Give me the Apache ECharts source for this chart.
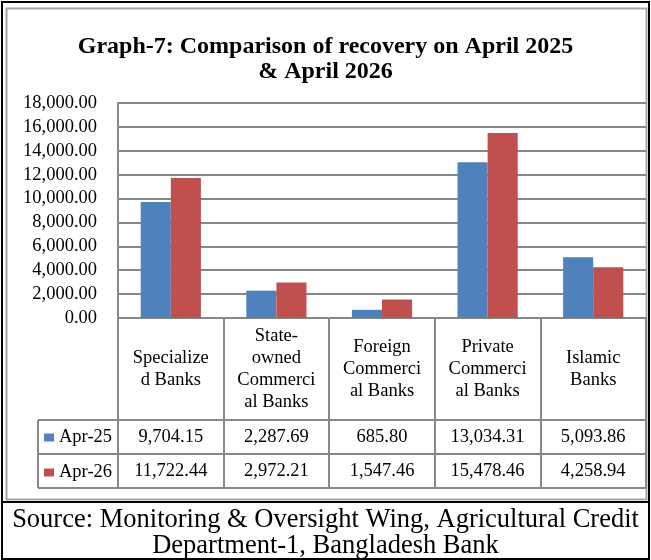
<!DOCTYPE html>
<html>
<head>
<meta charset="utf-8">
<script src="https://cdn.jsdelivr.net/npm/echarts@6/dist/echarts.min.js"></script>
<style>
    html, body { margin: 0; padding: 0; background: #fff; }
    #chart { width: 651px; height: 560px; }
</style>
</head>
<body>
<div id="chart"></div>
<script>
// data
var categories = ['Specialize\nd Banks', 'State-\nowned\nCommerci\nal Banks', 'Foreign\nCommerci\nal Banks', 'Private\nCommerci\nal Banks', 'Islamic\nBanks'];
var seriesNames = ['Apr-25', 'Apr-26'];
var apr25 = [9704.15, 2287.69, 685.80, 13034.31, 5093.86];
var apr26 = [11722.44, 2972.21, 1547.46, 15478.46, 4258.94];
var yMin = 0, yMax = 18000, yStep = 2000;

var titleText = 'Graph-7: Comparison of recovery on April 2025\n& April 2026';
var sourceText = 'Source: Monitoring & Oversight Wing, Agricultural Credit\nDepartment-1, Bangladesh Bank';

var serif = '"Liberation Serif", "Times New Roman", serif';
var lineGray = '#878787';
var fs = 18.5;

function fmt(v) {
    return v.toLocaleString('en-US', { minimumFractionDigits: 2, maximumFractionDigits: 2 });
}

// layout of plot + data table
var plotLeft = 118, plotRight = 646, plotTop = 103, plotBottom = 318;
var rowCat = 102, rowH = 34;   // category row height, value row height
var legendLeft = 38;

var chart = echarts.init(document.getElementById('chart'));

var tableTop = plotBottom + rowCat;
var option = {
    animation: false,
    color: ['#4F81BD', '#C0504D'],
    title: {
        text: titleText,
        left: 'center',
        top: 34,
        padding: 0,
        textStyle: { fontFamily: serif, fontWeight: 'bold', fontSize: 24, lineHeight: 25, color: '#000' }
    },
    grid: {
        left: plotLeft, right: 651 - plotRight, top: plotTop, bottom: 560 - plotBottom,
        containLabel: false
    },
    legend: {
        data: seriesNames,
        orient: 'vertical',
        left: legendLeft + 6,
        top: tableTop + 8,
        padding: 0,
        itemWidth: 10,
        itemHeight: 8,
        itemGap: 16,
        icon: 'rect',
        textStyle: { fontFamily: serif, fontSize: 18.5, lineHeight: 18, color: '#000' }
    },
    xAxis: [
        {
            type: 'category',
            data: categories,
            axisLine: { lineStyle: { color: lineGray, width: 2 } },
            axisTick: { show: true, length: rowCat + 2 * rowH, lineStyle: { color: lineGray, width: 2 } },
            axisLabel: {
                interval: 0, margin: rowCat / 2, verticalAlign: 'middle',
                fontFamily: serif, fontSize: fs, lineHeight: 22, color: '#000'
            }
        },
        {
            type: 'category',
            data: apr25.map(fmt),
            position: 'bottom',
            offset: rowCat + rowH / 2,
            axisLine: { show: false },
            axisTick: { show: false },
            axisLabel: { interval: 0, margin: 0, verticalAlign: 'middle', fontFamily: serif, fontSize: fs, color: '#000' }
        },
        {
            type: 'category',
            data: apr26.map(fmt),
            position: 'bottom',
            offset: rowCat + rowH * 1.5,
            axisLine: { show: false },
            axisTick: { show: false },
            axisLabel: { interval: 0, margin: 0, verticalAlign: 'middle', fontFamily: serif, fontSize: fs, color: '#000' }
        }
    ],
    yAxis: {
        type: 'value',
        min: yMin, max: yMax, interval: yStep,
        axisLine: { show: true, lineStyle: { color: lineGray, width: 2 } },
        axisTick: { show: false },
        splitLine: { lineStyle: { color: lineGray, width: 2 } },
        axisLabel: { margin: 21, fontFamily: serif, fontSize: fs, color: '#000', formatter: fmt }
    },
    series: [
        { name: seriesNames[0], type: 'bar', data: apr25, barGap: '0%', barCategoryGap: '43%' },
        { name: seriesNames[1], type: 'bar', data: apr26, barGap: '0%', barCategoryGap: '43%' }
    ],
    graphic: [
        // outer frame
        { type: 'rect', shape: { x: 2, y: 2, width: 647, height: 557 }, style: { fill: 'none', stroke: '#000', lineWidth: 2 } },
        // inner chart area border
        { type: 'rect', shape: { x: 6.5, y: 8.5, width: 640, height: 491 }, style: { fill: 'none', stroke: '#a6a6a6', lineWidth: 2 } },
        { type: 'line', shape: { x1: 2, y1: 502, x2: 650, y2: 502 }, style: { stroke: '#000', lineWidth: 2 } },
        // data table rules
        { type: 'line', shape: { x1: legendLeft, y1: tableTop, x2: plotRight, y2: tableTop }, style: { stroke: lineGray, lineWidth: 2 } },
        { type: 'line', shape: { x1: legendLeft, y1: tableTop + rowH, x2: plotRight, y2: tableTop + rowH }, style: { stroke: lineGray, lineWidth: 2 } },
        { type: 'line', shape: { x1: legendLeft, y1: tableTop + 2 * rowH, x2: plotRight, y2: tableTop + 2 * rowH }, style: { stroke: lineGray, lineWidth: 2 } },
        { type: 'line', shape: { x1: legendLeft, y1: tableTop, x2: legendLeft, y2: tableTop + 2 * rowH }, style: { stroke: lineGray, lineWidth: 2 } },
        // source note
        {
            type: 'text', left: 'center', top: 507,
            style: { text: sourceText, fontFamily: serif, fontSize: 26.5, lineHeight: 26, fill: '#000', textAlign: 'center' }
        }
    ]
};

chart.setOption(option);
</script>
</body>
</html>
